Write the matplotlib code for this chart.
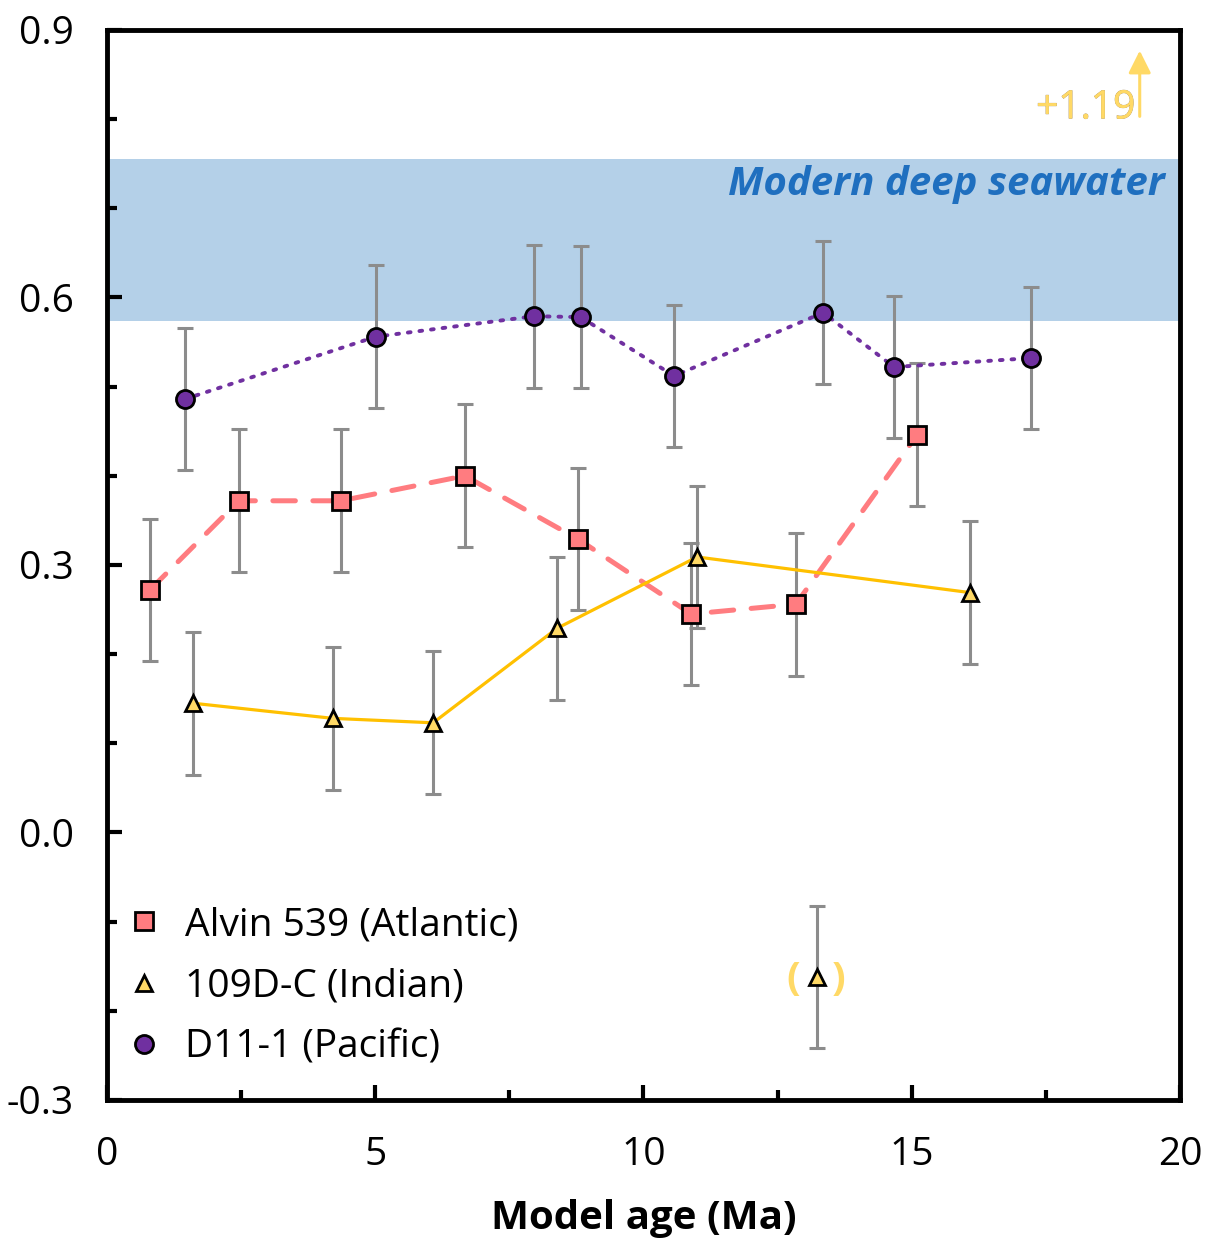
import matplotlib
matplotlib.use("Agg")
import matplotlib.pyplot as plt
import matplotlib.patheffects as pe
from matplotlib.ticker import MultipleLocator, FixedLocator
from matplotlib.lines import Line2D

plt.rcParams["font.family"] = ["Open Sans", "DejaVu Sans"]

# ── Data ──────────────────────────────────────────────────────────────────────
atl_age = [0.80, 2.46, 4.36, 6.67, 8.78, 10.89, 12.84, 15.10]
atl_val = [0.272, 0.372, 0.372, 0.400, 0.329, 0.245, 0.256, 0.446]
atl_err = [0.08, 0.08, 0.08, 0.08, 0.08, 0.08, 0.08, 0.08]

ind_age = [1.60, 4.21, 6.08, 8.39, 11.00, 16.09]
ind_val = [0.145, 0.128, 0.123, 0.229, 0.309, 0.269]
ind_err = [0.08, 0.08, 0.08, 0.08, 0.08, 0.08]

ind_out_age = [13.23]
ind_out_val = [-0.162]
ind_out_err = [0.08]

pac_age = [1.45, 5.01, 7.96, 8.83, 10.57, 13.35, 14.67, 17.22]
pac_val = [0.486, 0.556, 0.579, 0.578, 0.512, 0.583, 0.522, 0.532]
pac_err = [0.08, 0.08, 0.08, 0.08, 0.08, 0.08, 0.08, 0.08]

seawater_band = (0.574, 0.755)
off_scale_age = 19.25
off_scale_label = "+1.19"

# ── Styles ────────────────────────────────────────────────────────────────────
ATL_C = "#ff7c80"
IND_C = "#ffd966"
IND_LINE = "#ffc000"
PAC_C = "#7030a0"
ERR_C = "#8c8c8c"
BAND_C = "#b4d0e8"
TEXT_BLUE = "#1f6fbf"

fig = plt.figure(figsize=(12.07, 12.39), dpi=100)
ax = fig.add_axes([0.0886, 0.1122, 0.889, 0.8636])

ax.axhspan(*seawater_band, color=BAND_C, lw=0, zorder=0)
ax.text(19.72, 0.727, "Modern deep seawater", color=TEXT_BLUE, fontsize=29,
        fontweight="bold", fontstyle="italic", ha="right", va="center")

err_kw = dict(fmt="none", ecolor=ERR_C, elinewidth=2.2, capsize=6, capthick=2.2, zorder=2)
for x, y, e in [(atl_age, atl_val, atl_err), (ind_age, ind_val, ind_err),
                (ind_out_age, ind_out_val, ind_out_err), (pac_age, pac_val, pac_err)]:
    ax.errorbar(x, y, yerr=e, **err_kw)

ax.plot(atl_age, atl_val, color=ATL_C, lw=3.6, ls=(0, (4.5, 3.5)), dash_capstyle="round", zorder=3)
ax.plot(ind_age, ind_val, color=IND_LINE, lw=2.3, ls="-", zorder=3)
ax.plot(pac_age, pac_val, color=PAC_C, lw=2.8, ls=(0, (0.7, 2.3)), dash_capstyle="round", zorder=3)

ax.plot(atl_age, atl_val, ls="none", marker="s", ms=13.5, mfc=ATL_C, mec="black", mew=2, zorder=4)
ax.plot(ind_age + ind_out_age, ind_val + ind_out_val, ls="none", marker="^", ms=12,
        mfc=IND_C, mec="black", mew=2, zorder=4)
ax.plot(pac_age, pac_val, ls="none", marker="o", ms=13, mfc=PAC_C, mec="black", mew=2, zorder=4)

# parentheses around the doubtful point
ax.text(ind_out_age[0], ind_out_val[0] - 0.003, "(   )", color=IND_C, fontsize=29,
        fontweight="bold", ha="center", va="center", zorder=5)

# off-scale arrow
ax.annotate("", xy=(off_scale_age, 0.880), xytext=(off_scale_age, 0.800),
            arrowprops=dict(arrowstyle="-|>", color=IND_C, lw=2.2, mutation_scale=34))
ax.text(off_scale_age - 0.08, 0.801, off_scale_label, color=IND_C, fontsize=28,
        ha="right", va="baseline",
        path_effects=[pe.withStroke(linewidth=0.5, foreground="#a89060"), pe.Normal()])

# ── Axes ──────────────────────────────────────────────────────────────────────
ax.set_xlim(0, 20)
ax.set_ylim(-0.3, 0.9)
ax.xaxis.set_major_locator(MultipleLocator(5))
ax.xaxis.set_minor_locator(MultipleLocator(2.5))
ax.yaxis.set_major_locator(FixedLocator([-0.3, 0.0, 0.3, 0.6, 0.9]))
ax.yaxis.set_minor_locator(MultipleLocator(0.1))
ax.set_yticklabels(["-0.3", "0.0", "0.3", "0.6", "0.9"])
ax.tick_params(which="both", direction="in", width=3, top=False, right=False,
               labelsize=28, colors="black")
ax.tick_params(which="major", length=11)
ax.tick_params(which="minor", length=7)
ax.tick_params(axis="x", which="major", pad=26)
ax.tick_params(axis="y", which="major", pad=24)
for s in ax.spines.values():
    s.set_linewidth(3.5)

ax.set_xlabel("Model age (Ma)", fontsize=29, fontweight="bold", labelpad=18)

handles = [
    Line2D([], [], ls="none", marker="s", ms=13.5, mfc=ATL_C, mec="black", mew=2),
    Line2D([], [], ls="none", marker="^", ms=12, mfc=IND_C, mec="black", mew=2),
    Line2D([], [], ls="none", marker="o", ms=13, mfc=PAC_C, mec="black", mew=2),
]
ax.legend(handles, ["Alvin 539 (Atlantic)", "109D-C (Indian)", "D11-1 (Pacific)"],
          loc="lower left", bbox_to_anchor=(-0.0085, 0.0056), frameon=False, fontsize=28,
          handlelength=1.0, handletextpad=0.55, labelspacing=0.6, borderaxespad=0.3,
          borderpad=0.4)

fig.savefig("out.png", dpi=100)
